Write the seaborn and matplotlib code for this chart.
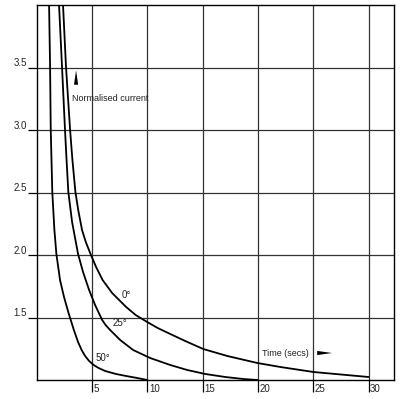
import numpy as np
import pandas as pd
import matplotlib
matplotlib.use("Agg")
import matplotlib.pyplot as plt
import matplotlib.transforms as mtransforms
import seaborn as sns

# Data (time in secs, normalised current)
time_0 = [2.37, 2.64, 3.01, 3.22, 3.49, 3.76, 4.09, 4.43, 4.86, 5.36, 5.95, 6.81, 8.08, 8.94,
          9.98, 10.93, 12.07, 13.42, 15.05, 17.23, 19.95, 22.03, 25.02, 30.0]
current_0 = [4.0, 3.504, 3.0, 2.76, 2.504, 2.352, 2.2, 2.104, 2.008, 1.904, 1.8, 1.696, 1.584, 1.52,
             1.464, 1.416, 1.368, 1.312, 1.248, 1.192, 1.136, 1.104, 1.064, 1.024]

time_25 = [2.01, 2.28, 2.55, 2.69, 2.85, 3.19, 3.73, 4.18, 4.73, 5.27, 5.91, 6.22, 6.63, 7.54,
           8.71, 10.25, 12.07, 13.6, 15.24, 17.05, 18.68, 19.95]
current_25 = [4.0, 3.504, 3.0, 2.76, 2.504, 2.264, 2.008, 1.864, 1.72, 1.6, 1.48, 1.44, 1.4, 1.32,
              1.24, 1.176, 1.12, 1.08, 1.048, 1.024, 1.008, 1.0]

time_50 = [1.11, 1.20, 1.26, 1.40, 1.59, 1.77, 2.10, 2.46, 2.87, 3.35, 3.73, 4.05, 4.37, 4.73,
           5.14, 5.59, 6.18, 7.17, 8.08, 9.08, 10.0]
current_50 = [4.0, 3.504, 3.0, 2.504, 2.2, 2.008, 1.8, 1.664, 1.536, 1.4, 1.304, 1.24, 1.192, 1.152,
              1.12, 1.096, 1.072, 1.048, 1.032, 1.016, 1.0]

curve_labels = ["0°", "25°", "50°"]
label_x = [8.1, 7.5, 6.0]
label_y = [1.68, 1.46, 1.18]

x_ticks = [5, 10, 15, 20, 25, 30]
y_ticks = [1.5, 2.0, 2.5, 3.0, 3.5]

frames = []
for name, t, c in zip(curve_labels, [time_0, time_25, time_50], [current_0, current_25, current_50]):
    frames.append(pd.DataFrame({"time": t, "current": c, "angle": name}))
df = pd.concat(frames, ignore_index=True)

sns.set_theme(style="white")
plt.rcParams["font.family"] = ["Liberation Sans", "DejaVu Sans"]

fig = plt.figure(figsize=(4.01, 3.99), dpi=100)
ax = fig.add_axes([0.0918, 0.0476, 0.8908, 0.9398])

sns.lineplot(data=df, x="time", y="current", units="angle", estimator=None,
             sort=False, color="black", linewidth=1.3, ax=ax)

ax.set_xlim(0, 32.3)
ax.set_ylim(1.0, 4.0)
ax.set_xticks(x_ticks)
ax.set_yticks(y_ticks)
ax.set_xticklabels([str(v) for v in x_ticks])
ax.set_yticklabels([f"{v:.1f}" for v in y_ticks])
ax.set_xlabel("")
ax.set_ylabel("")

ax.grid(True, color="#333333", linewidth=0.9)
for s in ax.spines.values():
    s.set_color("black")
    s.set_linewidth(1.0)

ax.tick_params(axis="x", direction="out", length=8.6, width=0.9, color="black",
               pad=-5.6, labelsize=7, labelcolor="#222222", bottom=True)
ax.tick_params(axis="y", direction="out", length=6.5, width=0.9, color="black",
               pad=0.8, labelsize=7, labelcolor="#222222", left=True)
for lab in ax.get_xticklabels():
    lab.set_horizontalalignment("left")
    lab.set_transform(lab.get_transform() + mtransforms.ScaledTranslation(1.5 / 100, 0, fig.dpi_scale_trans))
for lab in ax.get_yticklabels():
    lab.set_transform(lab.get_transform() + mtransforms.ScaledTranslation(0, 5.5 / 100, fig.dpi_scale_trans))

for name, lx, ly in zip(curve_labels, label_x, label_y):
    ax.text(lx, ly, name, fontsize=7, ha="center", va="center", color="#222222")

# axis captions with wedge arrows
ax.text(3.2, 3.25, "Normalised current", fontsize=6.5, ha="left", va="center", color="#222222")
ax.annotate("", xy=(3.55, 3.50), xytext=(3.55, 3.34),
            arrowprops=dict(arrowstyle="wedge,tail_width=0.25,shrink_factor=0.5", color="black", lw=0))
ax.text(20.35, 1.216, "Time (secs)", fontsize=6.5, ha="left", va="center", color="#222222")
ax.annotate("", xy=(26.95, 1.216), xytext=(25.1, 1.216),
            arrowprops=dict(arrowstyle="wedge,tail_width=0.25,shrink_factor=0.5", color="black", lw=0))

fig.savefig("out.png", dpi=100)
